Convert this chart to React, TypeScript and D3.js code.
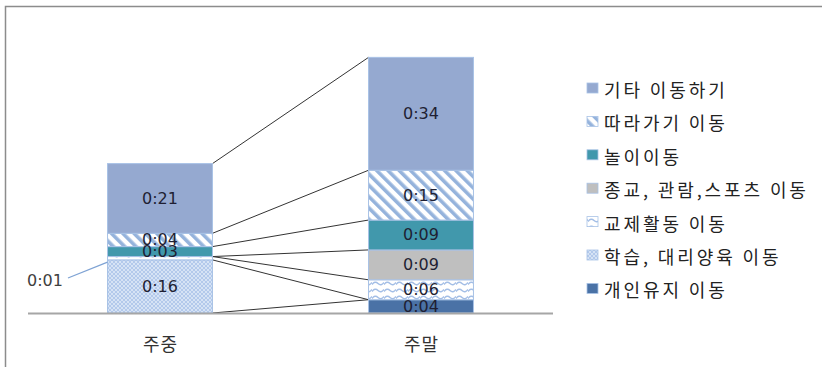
import React from 'react';
import * as d3 from 'd3';

// Average daily travel time (minutes) by purpose, weekday vs. weekend
const categories = ['주중', '주말'];
const seriesNames = [
  '개인유지 이동',
  '학습, 대리양육 이동',
  '교제활동 이동',
  '종교, 관람,스포츠 이동',
  '놀이이동',
  '따라가기 이동',
  '기타 이동하기',
];
const weekdayMinutes = [0, 16, 1, 0, 3, 4, 21];
const weekendMinutes = [4, 0, 6, 9, 9, 15, 34];

const W = 822;
const H = 367;
const KFONT = '"Noto Sans CJK KR", "Noto Sans", sans-serif';
const NFONT = '"DejaVu Sans", Verdana, sans-serif';

const fills = [
  '#4a72a6',
  'url(#pat-mesh)',
  'url(#pat-wave)',
  '#bfbfbf',
  '#4198ac',
  'url(#pat-stripe)',
  '#95a9d0',
];

const fmt = (m: number) => `${Math.floor(m / 60)}:${String(m % 60).padStart(2, '0')}`;

export default function App() {
  const values = [weekdayMinutes, weekendMinutes];
  const x = d3.scaleBand<string>().domain(categories).range([29.5, 551.5]).paddingInner(0.598).paddingOuter(0.299);
  const y = d3.scaleLinear().domain([0, 90]).range([313, 14.2]);
  const bw = x.bandwidth();

  // cumulative stacks: for each category, [bottom, top] of every series
  const stacks = values.map((vals) => {
    let acc = 0;
    return vals.map((v) => {
      const s = [acc, acc + v];
      acc += v;
      return s;
    });
  });

  const legendTop = 89;
  const legendStep = 33.4;

  return (
    <svg width={W} height={H} style={{ position: 'absolute', left: 0, top: 0, background: '#fff' }}>
      <defs>
        <pattern id="pat-stripe" width="8" height="8" patternUnits="userSpaceOnUse" patternTransform="rotate(-45)">
          <rect width="8" height="8" fill="#fff" />
          <rect width="3.6" height="8" fill="#95b3dc" />
        </pattern>
        <pattern id="pat-wave" width="12" height="7" patternUnits="userSpaceOnUse">
          <rect width="12" height="7" fill="#fff" />
          <path d="M0,4.5 Q3,0.5 6,3.5 T12,2.5" fill="none" stroke="#a3bee6" strokeWidth="1.4" />
        </pattern>
        <pattern id="pat-mesh" width="4" height="4" patternUnits="userSpaceOnUse">
          <rect width="4" height="4" fill="#d6e3f5" />
          <path d="M0,0 L4,4 M4,0 L0,4" stroke="#a9c3e8" strokeWidth="0.8" />
        </pattern>
      </defs>

      {/* outer frame */}
      <path d={`M5.5,${H} V6.5 H${W}`} fill="none" stroke="#8c8c8c" strokeWidth={1.5} />

      {/* series lines linking the stacks */}
      {seriesNames.map((_, i) => (
        <line
          key={`sl-${i}`}
          x1={x(categories[0])! + bw}
          y1={y(stacks[0][i][1])}
          x2={x(categories[1])!}
          y2={y(stacks[1][i][1])}
          stroke="#333"
          strokeWidth={1}
        />
      ))}

      {/* stacked segments */}
      {categories.map((c, ci) =>
        seriesNames.map((_, i) => {
          const [b, t] = stacks[ci][i];
          if (t - b <= 0) return null;
          return (
            <rect
              key={`${c}-${i}`}
              x={x(c)!}
              y={y(t)}
              width={bw}
              height={y(b) - y(t)}
              fill={fills[i]}
              stroke="#a8c2e6"
              strokeWidth={1}
            />
          );
        })
      )}

      {/* axis line */}
      <line x1={28} x2={553} y1={313.5} y2={313.5} stroke="#a6a6a6" strokeWidth={2} />

      {/* data labels */}
      {categories.map((c, ci) =>
        seriesNames.map((_, i) => {
          const [b, t] = stacks[ci][i];
          const v = t - b;
          if (v <= 0) return null;
          const cy = y((b + t) / 2);
          if (v < 2) {
            // too thin for an inside label: place it to the left with a leader
            return (
              <g key={`lab-${c}-${i}`}>
                <line x1={68} y1={278} x2={x(c)!} y2={cy + 4} stroke="#7fa3d4" strokeWidth={1.3} />
                <text x={45} y={280} fontFamily={NFONT} fontSize={16} fill="#404040" textAnchor="middle" dominantBaseline="central">
                  {fmt(v)}
                </text>
              </g>
            );
          }
          return (
            <text
              key={`lab-${c}-${i}`}
              x={x(c)! + bw / 2}
              y={cy}
              fontFamily={NFONT}
              fontSize={16}
              fill="#1f1f33"
              textAnchor="middle"
              dominantBaseline="central"
            >
              {fmt(v)}
            </text>
          );
        })
      )}

      {/* category labels */}
      {categories.map((c) => (
        <text
          key={c}
          x={x(c)! + bw / 2 + 0.5}
          y={343}
          fontFamily={KFONT}
          fontSize={18}
          letterSpacing={1}
          fill="#333"
          textAnchor="middle"
          dominantBaseline="central"
        >
          {c}
        </text>
      ))}

      {/* legend */}
      {seriesNames
        .map((name, i) => ({ name, i }))
        .reverse()
        .map(({ name, i }, k) => {
          const cy = legendTop + k * legendStep;
          return (
            <g key={name}>
              <rect x={587} y={cy - 6} width={11} height={10} fill={fills[i]} stroke="#a8c2e6" strokeWidth={0.8} />
              <text x={604} y={cy} fontFamily={KFONT} fontSize={18} letterSpacing={2.9} fill="#222" dominantBaseline="central">
                {name}
              </text>
            </g>
          );
        })}
    </svg>
  );
}
